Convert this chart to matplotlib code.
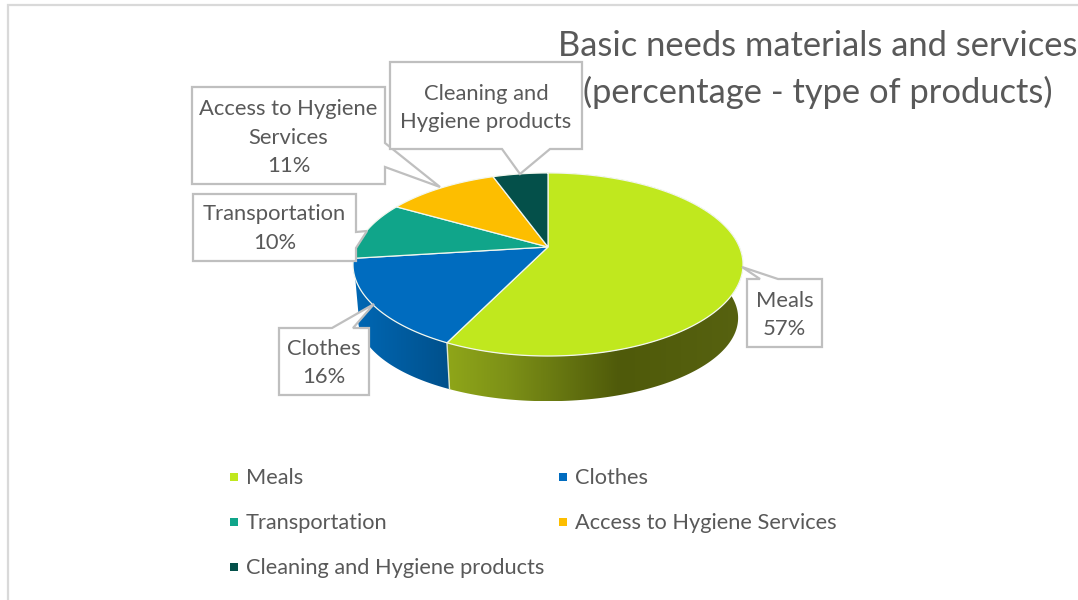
import numpy as np
import matplotlib
matplotlib.use('Agg')
import matplotlib.pyplot as plt
from matplotlib.colors import LinearSegmentedColormap
from matplotlib.patches import Polygon, Rectangle

categories = ['Meals', 'Clothes', 'Transportation', 'Access to Hygiene Services', 'Cleaning and Hygiene products']
shares = [57.2, 15.8, 10.3, 11.2, 5.5]
colors = ['#c0e81e', '#006cbf', '#10a58a', '#fdbe00', '#04504a']
label_text = ['Meals\n57%', 'Clothes\n16%', 'Transportation\n10%',
              'Access to Hygiene\nServices\n11%', 'Cleaning and\nHygiene products']
title_lines = ['Basic needs materials and services', '(percentage - type of products)']

GREY = '#595959'
LINE = '#bfbfbf'
FONT = 'Lato'

# pie geometry, in pixels of the 1078x600 picture
CX, CY = 548, 247
SX, SY, K = 191.4, 88.2, 0.191
DEPTH, SHRINK_U, SHRINK_V = 55, 0.975, 0.91


def rim(a0, a1, bottom=False):
    # a perspective circle, angles clockwise from the top
    t = np.radians(np.linspace(a0, a1, 200))
    x, y = np.sin(t), np.cos(t)
    w = 1 + K * y
    u, v = SX * x / w, -SY * y / w
    if bottom:
        return np.column_stack([CX + SHRINK_U * u, CY + DEPTH + SHRINK_V * v])
    return np.column_stack([CX + u, CY + v])


fig = plt.figure(figsize=(10.78, 6), dpi=100)
ax = fig.add_axes([0, 0, 1, 1])

# outer chart border
ax.plot([8, 8, 1078], [600, 4.5, 4.5], color='#d9d9d9', lw=1.6, solid_joinstyle='miter')

edges = np.concatenate([[0], np.cumsum(shares)]) / sum(shares) * 360

# side walls with a horizontal gradient
side_cmaps = {
    0: [(0.0, '#8fa619'), (0.2, '#7d9117'), (0.58, '#4f5a0a'), (1.0, '#576210')],
    1: [(0.0, '#0068b5'), (1.0, '#00508b')],
}
for i, stops in side_cmaps.items():
    top = rim(edges[i], edges[i + 1])
    low = rim(edges[i], edges[i + 1], bottom=True)
    pts = np.vstack([top, low[::-1]])
    poly = Polygon(pts, closed=True, fc='none', ec='none')
    ax.add_patch(poly)
    x0, x1 = pts[:, 0].min(), pts[:, 0].max()
    y0, y1 = pts[:, 1].min(), pts[:, 1].max()
    cmap = LinearSegmentedColormap.from_list('side%d' % i, stops)
    im = ax.imshow(np.linspace(0, 1, 256).reshape(1, -1), cmap=cmap, aspect='auto',
                   extent=[x0, x1, y1, y0], zorder=2)
    im.set_clip_path(poly)

# light seam between the two walls
seam = rim(edges[1], edges[1] + 0.01)
seam_low = rim(edges[1], edges[1] + 0.01, bottom=True)
ax.plot([seam[0, 0], seam_low[0, 0]], [seam[0, 1], seam_low[0, 1]], color='#dfe8d0', lw=1, zorder=3)

# top face
for i, c in enumerate(colors):
    pts = np.vstack([[CX, CY], rim(edges[i], edges[i + 1])])
    ax.add_patch(Polygon(pts, closed=True, fc=c, ec='#f2f7ee', lw=0.9, zorder=4))

# callouts
callouts = [
    [(747, 279), (760, 279), (742, 267), (778, 279), (822, 279), (822, 347), (747, 347)],
    [(279, 328), (332, 328), (374, 304), (353, 328), (369, 328), (369, 395), (279, 395)],
    [(193, 194), (356, 194), (356, 232), (367, 231), (356, 248), (356, 261), (193, 261)],
    [(192, 87), (385, 87), (385, 143), (440, 187), (385, 167), (385, 184), (192, 184)],
    [(390, 62), (582, 62), (582, 149), (550, 149), (520, 174), (502, 149), (390, 149)],
]
label_pos = [(784.5, 315), (324, 363), (274.5, 228.5), (288.5, 137.5), (486, 108)]
for pts, txt, (lx, ly) in zip(callouts, label_text, label_pos):
    ax.add_patch(Polygon(pts, closed=True, fc='white', ec=LINE, lw=1.6, zorder=5,
                         joinstyle='miter'))
    ax.text(lx, ly, txt, ha='center', va='center', color=GREY, fontsize=15.8,
            family=FONT, linespacing=1.52, zorder=6)

# title
ax.text(818, 46, title_lines[0], ha='center', va='center', color=GREY, fontsize=24.8,
        family=FONT, zorder=7)
ax.text(818, 92, title_lines[1], ha='center', va='center', color=GREY, fontsize=24.8,
        family=FONT, zorder=7)

# legend, filled row by row in two columns
leg_x = [230, 559]
leg_y = [477, 522, 567]
for i, (name, c) in enumerate(zip(categories, colors)):
    lx, ly = leg_x[i % 2], leg_y[i // 2]
    ax.add_patch(Rectangle((lx, ly - 4), 8, 8, fc=c, ec='none', zorder=5))
    ax.text(lx + 16, ly + 1, name, ha='left', va='center', color=GREY, fontsize=15.7,
            family=FONT, zorder=6)

ax.set_xlim(0, 1078)
ax.set_ylim(600, 0)
ax.axis('off')

plt.savefig('out.png', dpi=100)
